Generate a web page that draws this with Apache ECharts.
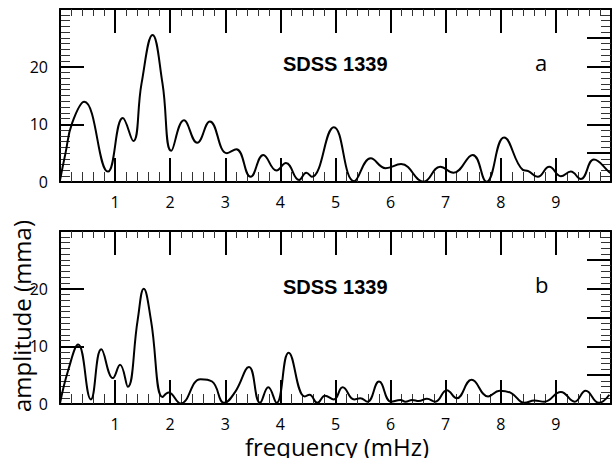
<!DOCTYPE html>
<html><head><meta charset="utf-8">
<script src="https://cdn.jsdelivr.net/npm/echarts@6/dist/echarts.min.js"></script>
<style>html,body{margin:0;padding:0;background:#fff;overflow:hidden}#ca{width:614px;height:220px}#cb{width:614px;height:238px}</style>
</head><body><div id="ca"></div><div id="cb"></div>
<script>
// Panel a: frequency (mHz) and amplitude (mma)
const freqA = [0, 0.1, 0.22, 0.44, 0.87, 1.14, 1.33, 1.48, 1.68, 1.86, 2.02, 2.25, 2.49, 2.72, 3.03, 3.2, 3.46, 3.69, 3.93, 4.1, 4.34, 4.47, 4.57, 4.97, 5.34, 5.64, 5.91, 6.19, 6.6, 6.9, 7.14, 7.49, 7.74, 8.06, 8.4, 8.5, 8.67, 8.88, 9.09, 9.27, 9.45, 9.69, 9.97, 10];
const ampA  = [0.3, 5, 10.2, 13.9, 1.8, 11.1, 7.1, 17.1, 25.5, 17.1, 5.4, 10.7, 6.8, 10.5, 5.0, 5.7, 0.9, 4.7, 2.0, 3.3, 0.35, 1.6, 0.9, 9.5, 0.15, 4.1, 2.4, 3.1, 0.05, 2.65, 1.6, 4.7, 0.05, 7.7, 2.1, 1.9, 0.9, 2.65, 1.0, 1.8, 0.5, 3.9, 1.7, 1.5];
// Panel b
const freqB = [0, 0.15, 0.33, 0.56, 0.75, 0.96, 1.09, 1.23, 1.41, 1.52, 1.65, 1.86, 1.97, 2.19, 2.55, 2.76, 2.98, 3.18, 3.43, 3.63, 3.78, 3.93, 4.15, 4.44, 4.53, 4.67, 4.81, 4.97, 5.13, 5.34, 5.45, 5.58, 5.79, 6.01, 6.18, 6.27, 6.39, 6.51, 6.66, 6.81, 7.02, 7.2, 7.47, 7.77, 7.98, 8.19, 8.43, 8.61, 8.79, 9.09, 9.34, 9.54, 9.78, 9.97];
const ampB  = [0.1, 5.9, 10.3, 0.8, 9.5, 4.5, 6.8, 3.0, 14.6, 20.0, 14.6, 1.2, 2.0, 0.1, 4.3, 3.9, 0.2, 2.1, 6.4, 0.2, 2.9, 0.2, 8.9, 1.3, 1.6, 0.2, 1.45, 0.8, 2.9, 0.8, 1.0, 0.4, 3.9, 0.4, 0.7, 0.4, 0.7, 0.5, 0.9, 0.4, 2.4, 1.0, 4.2, 1.3, 2.3, 1.9, 0.2, 0.6, 0.4, 2.1, 0.4, 2.3, 0.2, 1.6];
const xTickLabels = ['1','2','3','4','5','6','7','8','9'];
const yTickLabels = ['0','10','20'];
const panelLabels = ['a','b'];
const objectName = 'SDSS 1339';
const xTitle = 'frequency (mHz)';
const yTitle = 'amplitude (mma)';

const FONT = '"Open Sans", "DejaVu Sans", sans-serif';
const pairs = (f, a) => f.map((v, i) => [v, a[i]]);

function makeOption(freq, amp, gridTop, panel, nameTop, labelTop, withTitles) {
  const majorLS = {color: '#000', width: 2};
  const minorLS = {color: '#333', width: 1};
  const lab = {color: '#000', fontSize: 16, fontFamily: FONT, margin: 12};
  const xAxes = [{
    type: 'value', position: 'bottom', min: 0, max: 10, interval: 1,
    axisLine: {onZero: false, lineStyle: majorLS},
    axisTick: {show: true, inside: true, length: 24, lineStyle: majorLS},
    minorTick: {show: true, splitNumber: 5, length: 10, lineStyle: minorLS},
    splitLine: {show: false},
    axisLabel: Object.assign({formatter: v => (xTickLabels.includes(String(v)) ? String(v) : '')}, lab)
  }, {
    type: 'value', position: 'top', min: 0, max: 10, interval: 1,
    axisLine: {onZero: false, lineStyle: majorLS},
    axisTick: {show: true, inside: true, length: 24, lineStyle: majorLS},
    minorTick: {show: true, splitNumber: 5, length: 7, lineStyle: minorLS},
    splitLine: {show: false}, axisLabel: {show: false}
  }];
  const yAxes = [{
    type: 'value', position: 'left', min: 0, max: 30, interval: 10,
    axisLine: {show: true, onZero: false, lineStyle: majorLS},
    axisTick: {show: true, inside: true, length: 24, lineStyle: majorLS},
    minorTick: {show: true, splitNumber: 10, length: 10, lineStyle: minorLS},
    splitLine: {show: false},
    axisLabel: Object.assign({formatter: v => (yTickLabels.includes(String(v)) ? String(v) : '')}, lab)
  }, {
    type: 'value', position: 'right', min: 0, max: 30, interval: 5,
    axisLine: {show: true, onZero: false, lineStyle: majorLS},
    axisTick: {show: true, inside: true, length: 24, lineStyle: majorLS},
    minorTick: {show: true, splitNumber: 5, length: 10, lineStyle: minorLS},
    splitLine: {show: false}, axisLabel: {show: false}
  }];
  const opt = {
    animation: false,
    title: [
      {text: objectName, left: 283, top: nameTop, padding: 0,
        textStyle: {color: '#000', fontSize: 20, fontWeight: 'bold', fontFamily: '"Liberation Sans", Arial, sans-serif'}},
      {text: panel, left: 535, top: labelTop, padding: 0,
        textStyle: {color: '#000', fontSize: 22, fontWeight: 'normal', fontFamily: FONT}}
    ],
    grid: {left: 60, top: gridTop, right: -2, height: 173},
    xAxis: xAxes,
    yAxis: yAxes,
    series: [{type: 'line', data: pairs(freq, amp), smooth: 0.45,
      symbol: 'none', lineStyle: {color: '#000', width: 2}, clip: true}]
  };
  if (withTitles) {
    opt.graphic = [
      {type: 'text', x: 337, y: 226, style: {text: xTitle, fontSize: 24, fontFamily: FONT, fill: '#000', align: 'center', verticalAlign: 'middle'}},
      {type: 'text', x: 21, y: 96, rotation: Math.PI / 2, style: {text: yTitle, fontSize: 24, fontFamily: FONT, fill: '#000', align: 'center', verticalAlign: 'middle'}}
    ];
  }
  return opt;
}

const chartA = echarts.init(document.getElementById('ca'), null, {renderer: 'svg'});
chartA.setOption(makeOption(freqA, ampA, 9, panelLabels[0], 54, 51, false));
const chartB = echarts.init(document.getElementById('cb'), null, {renderer: 'svg'});
chartB.setOption(makeOption(freqB, ampB, 11, panelLabels[1], 57, 53, true));
</script></body></html>
